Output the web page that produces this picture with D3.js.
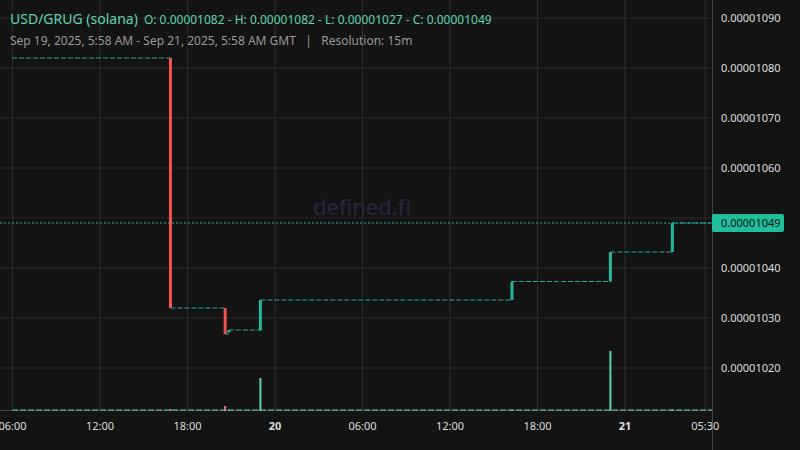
<!DOCTYPE html><html><head><meta charset="utf-8"><script src="https://cdn.jsdelivr.net/npm/d3@7"></script>
<style>body{margin:0;background:#131313}svg{display:block;font-family:"Noto Sans",sans-serif}</style></head><body><svg id="c" width="800" height="450"></svg>
<script>
const candleTimes=["2025-09-19T16:50","2025-09-19T20:35","2025-09-19T20:50","2025-09-19T23:00","2025-09-20T16:15","2025-09-20T23:00","2025-09-21T03:15"];
const opens=[1082,1032,1027.1,1027.5,1033.6,1037.3,1043.2];
const closes=[1032,1026.8,1027.6,1033.6,1037.3,1043.2,1049];
const volumes=[2,5,1,33,1,60,1.5];
const yTicks=[1020,1030,1040,1050,1060,1070,1080,1090];
const xTicks=["2025-09-19T06:00","2025-09-19T12:00","2025-09-19T18:00","2025-09-20T00:00","2025-09-20T06:00","2025-09-20T12:00","2025-09-20T18:00","2025-09-21T00:00","2025-09-21T05:30"];
const xTickLabels=["06:00","12:00","18:00","20","06:00","12:00","18:00","21","05:30"];
const startT="2025-09-19T05:58",endT="2025-09-21T05:58",firstOpen=1082,last=1049;
const P=d=>new Date(d+":00Z");
const svg=d3.select("#c");
const x=d3.scaleUtc().domain([P(startT),P(endT)]).range([12,712]);
const y=d3.scaleLinear().domain([1018.5,1090]).range([375.5,18]);
const vy=d3.scaleLinear().domain([0,60]).range([411,351]);
const fmt=v=>(v/1e8).toFixed(8);
const g=svg.append("g");
xTicks.forEach(t=>g.append("line").attr("x1",x(P(t))).attr("x2",x(P(t))).attr("y1",0).attr("y2",410).attr("stroke","#2b2b2b"));
yTicks.forEach(v=>g.append("line").attr("x1",0).attr("x2",712).attr("y1",y(v)).attr("y2",y(v)).attr("stroke","#2b2b2b"));
svg.append("line").attr("x1",712.5).attr("x2",712.5).attr("y1",0).attr("y2",450).attr("stroke","#444");
svg.append("line").attr("x1",0).attr("x2",712).attr("y1",410.5).attr("y2",410.5).attr("stroke","#444");
svg.append("text").attr("x",362).attr("y",215).attr("text-anchor","middle").attr("font-size",22).attr("fill","#262640").text("defined.fi");
// flat dashed segments
const ts=[startT,...candleTimes,endT];const lv=[firstOpen,...closes];
for(let i=0;i<lv.length;i++){svg.append("line").attr("x1",x(P(ts[i]))).attr("x2",x(P(ts[i+1]))).attr("y1",y(lv[i])).attr("y2",y(lv[i])).attr("stroke","#26a69a").attr("stroke-dasharray","5,2");}
candleTimes.forEach((t,i)=>{const up=closes[i]>=opens[i];const y0=y(Math.max(opens[i],closes[i])),y1=y(Math.min(opens[i],closes[i]));
svg.append("rect").attr("x",x(P(t))-1.5).attr("y",y0).attr("width",3).attr("height",Math.max(2,y1-y0)).attr("fill",up?"#1fb89a":"#ef5350");
svg.append("rect").attr("x",x(P(t))-1).attr("y",vy(volumes[i])).attr("width",2).attr("height",411-vy(volumes[i])).attr("fill",up?"#5fd3b0":"#f07080");});
svg.append("line").attr("x1",x(P(startT))).attr("x2",712).attr("y1",410).attr("y2",410).attr("stroke","#5fd3b0").attr("stroke-dasharray","6,2");
// last price line
svg.append("line").attr("x1",0).attr("x2",712).attr("y1",y(last)).attr("y2",y(last)).attr("stroke","#1fb89a").attr("stroke-dasharray","2,2");
const ax=svg.append("g").attr("font-size",11).attr("fill","#ddd");
yTicks.forEach(v=>ax.append("text").attr("x",721).attr("y",y(v)+4).text(fmt(v)));
svg.append("rect").attr("x",712).attr("y",y(last)-9).attr("width",72).attr("height",18).attr("rx",2).attr("fill","#1fbf9b");
svg.append("text").attr("x",721).attr("y",y(last)+4).attr("font-size",11).attr("fill","#111").text(fmt(last));
xTicks.forEach((t,i)=>ax.append("text").attr("x",x(P(t))).attr("y",430).attr("text-anchor","middle").attr("font-weight",xTickLabels[i].length<3?"bold":"normal").text(xTickLabels[i]));
svg.append("text").attr("x",10).attr("y",24).attr("fill","#5fd3b0").attr("font-size",14).text("USD/GRUG (solana)").append("tspan").attr("font-size",12).attr("dx",6).text("O: 0.00001082 - H: 0.00001082 - L: 0.00001027 - C: 0.00001049");
svg.append("text").attr("x",10).attr("y",45).attr("fill","#999").attr("font-size",12).text("Sep 19, 2025, 5:58 AM - Sep 21, 2025, 5:58 AM GMT   |   Resolution: 15m").attr("xml:space","preserve");
</script></body></html>
